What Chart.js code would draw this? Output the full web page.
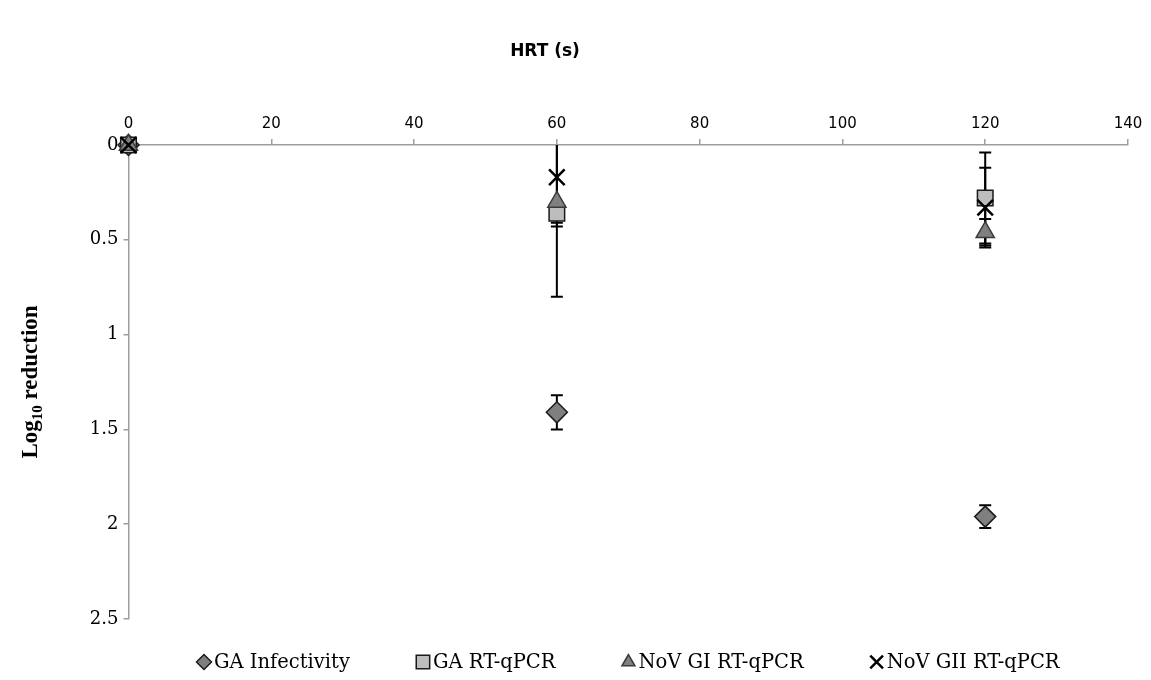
<!DOCTYPE html>
<html>
<head>
<meta charset="utf-8">
<script src="https://cdn.jsdelivr.net/npm/chart.js@4"></script>
<style>
  html, body { margin: 0; padding: 0; background: #fff; }
  #wrap { width: 1151px; height: 680px; }
</style>
</head>
<body>
<div id="wrap"><canvas id="hrtChart"></canvas></div>
<script>
// ========================================
// DATA
// ========================================
const hrtSeconds = [0, 60, 120];

const gaInfectivity = [0, 1.41, 1.96];
const gaInfectivityErr = [0, 0.09, 0.06];

const gaRtqpcr = [0, 0.36, 0.28];
const gaRtqpcrErr = [0, 0.05, 0.24];

const novGiRtqpcr = [0, 0.3, 0.46];
const novGiRtqpcrErr = [0, 0.5, 0.07];

const novGiiRtqpcr = [0, 0.17, 0.33];
const novGiiRtqpcrErr = [0, 0.26, 0.21];

const seriesLabels = ["GA Infectivity", "GA RT-qPCR", "NoV GI RT-qPCR", "NoV GII RT-qPCR"];
const xTicks = [0, 20, 40, 60, 80, 100, 120, 140];
const yTicks = [0, 0.5, 1, 1.5, 2, 2.5];

const axisTitleX = "HRT (s)";
const AXIS_GREY = "#9d9d9d";

function toPoints(values, errs) {
  return hrtSeconds.map((x, i) => ({ x: x, y: values[i], err: errs[i] }));
}

// ========================================
// ERROR BARS (drawn through the scales)
// ========================================
const errorBars = {
  id: "errorBars",
  beforeDatasetsDraw(chart) {
    const { ctx, chartArea, scales } = chart;
    ctx.save();
    ctx.beginPath();
    ctx.rect(chartArea.left - 1, chartArea.top, chartArea.right - chartArea.left + 2, chartArea.bottom - chartArea.top);
    ctx.clip();
    ctx.strokeStyle = "#000";
    ctx.lineWidth = 2;
    chart.data.datasets.forEach((ds) => {
      ds.data.forEach((p) => {
        if (!p.err) return;
        const px = scales.x.getPixelForValue(p.x);
        const yTop = scales.y.getPixelForValue(p.y - p.err);
        const yBot = scales.y.getPixelForValue(p.y + p.err);
        ctx.beginPath();
        ctx.moveTo(px, yTop);
        ctx.lineTo(px, yBot);
        ctx.moveTo(px - 6, yTop);
        ctx.lineTo(px + 6, yTop);
        ctx.moveTo(px - 6, yBot);
        ctx.lineTo(px + 6, yBot);
        ctx.stroke();
      });
    });
    ctx.restore();
  },
};

// ========================================
// TITLES + LEGEND (Excel-style)
// ========================================
const decorations = {
  id: "decorations",
  afterDraw(chart) {
    const { ctx, chartArea } = chart;
    ctx.save();

    // top axis title
    ctx.fillStyle = "#000";
    ctx.font = "bold 17px 'DejaVu Sans'";
    ctx.textAlign = "center";
    ctx.textBaseline = "middle";
    ctx.fillText(axisTitleX, 545, 52);

    // y title with subscript
    const midY = (chartArea.top + chartArea.bottom) / 2;
    ctx.translate(29, midY);
    ctx.rotate(-Math.PI / 2);
    const big = "bold 23px 'Liberation Serif'";
    const small = "bold 15px 'Liberation Serif'";
    ctx.font = big;
    const w1 = ctx.measureText("Log").width;
    const w3 = ctx.measureText(" reduction").width;
    ctx.font = small;
    const w2 = ctx.measureText("10").width;
    let x0 = -(w1 + w2 + w3) / 2;
    ctx.textAlign = "left";
    ctx.textBaseline = "alphabetic";
    ctx.font = big;
    ctx.fillText("Log", x0, 8);
    ctx.font = small;
    ctx.fillText("10", x0 + w1, 13);
    ctx.font = big;
    ctx.fillText(" reduction", x0 + w1 + w2, 8);
    ctx.restore();

    // legend
    ctx.save();
    ctx.font = "19.5px 'DejaVu Serif'";
    ctx.textBaseline = "middle";
    ctx.textAlign = "left";
    const markerW = 14, markerGap = 3, itemGap = 66;
    const items = chart.data.datasets.map((ds) => ({
      ds: ds,
      w: markerW + markerGap + ctx.measureText(ds.label).width,
    }));
    const total = items.reduce((s, it) => s + it.w, 0) + itemGap * (items.length - 1);
    let cx = (chartArea.left + chartArea.right) / 2 - total / 2;
    const ly = 662;
    items.forEach((it) => {
      const ds = it.ds;
      ctx.fillStyle = ds.backgroundColor;
      ctx.strokeStyle = ds.borderColor;
      ctx.lineWidth = ds.pointStyle === "crossRot" ? 2.5 : 1.5;
      Chart.helpers.drawPoint(ctx, {
        pointStyle: ds.pointStyle,
        radius: ds.pointStyle === "rect" ? 9.5 : ds.pointStyle === "crossRot" ? 9 : 7.5,
        rotation: 0,
        borderWidth: ctx.lineWidth,
      }, cx + markerW / 2, ly);
      ctx.fillStyle = "#000";
      ctx.fillText(ds.label, cx + markerW + markerGap, ly + 1);
      cx += it.w + itemGap;
    });
    ctx.restore();
  },
};

// ========================================
// CHART
// ========================================
new Chart(document.getElementById("hrtChart"), {
  type: "scatter",
  data: {
    datasets: [
      {
        label: seriesLabels[0],
        data: toPoints(gaInfectivity, gaInfectivityErr),
        pointStyle: "rectRot",
        pointRadius: 10.5,
        backgroundColor: "#7f7f7f",
        borderColor: "#1a1a1a",
        borderWidth: 1.5,
        clip: false,
        order: 4,
      },
      {
        label: seriesLabels[1],
        data: toPoints(gaRtqpcr, gaRtqpcrErr),
        pointStyle: "rect",
        pointRadius: 11,
        backgroundColor: "#bdbdbd",
        borderColor: "#1a1a1a",
        borderWidth: 1.5,
        clip: false,
        order: 3,
      },
      {
        label: seriesLabels[2],
        data: toPoints(novGiRtqpcr, novGiRtqpcrErr),
        pointStyle: "triangle",
        pointRadius: 10.5,
        backgroundColor: "#808080",
        borderColor: "#3a3a3a",
        borderWidth: 1.5,
        clip: false,
        order: 2,
      },
      {
        label: seriesLabels[3],
        data: toPoints(novGiiRtqpcr, novGiiRtqpcrErr),
        pointStyle: "crossRot",
        pointRadius: 11,
        backgroundColor: "#000",
        borderColor: "#000",
        borderWidth: 2.5,
        clip: false,
        order: 1,
      },
    ],
  },
  options: {
    responsive: true,
    maintainAspectRatio: false,
    animation: false,
    layout: { padding: { left: 0, right: 23, top: 0, bottom: 61 } },
    plugins: {
      legend: { display: false },
      tooltip: { enabled: false },
    },
    scales: {
      x: {
        type: "linear",
        position: "top",
        min: 0,
        max: 140,
        afterFit: (scale) => { scale.height = 145; },
        afterBuildTicks: (scale) => { scale.ticks = xTicks.map((v) => ({ value: v })); },
        ticks: {
          color: "#000",
          font: { family: "'DejaVu Sans'", size: 15 },
          padding: 6,
          maxRotation: 0,
          callback: (v) => String(v),
        },
        grid: { drawOnChartArea: false, drawTicks: true, tickLength: 6, color: AXIS_GREY, lineWidth: 1.5 },
        border: { color: AXIS_GREY, width: 1.5 },
      },
      y: {
        type: "linear",
        reverse: true,
        min: 0,
        max: 2.5,
        afterFit: (scale) => { scale.width = 128.5; },
        afterBuildTicks: (scale) => { scale.ticks = yTicks.map((v) => ({ value: v })); },
        ticks: {
          color: "#000",
          font: { family: "'DejaVu Serif'", size: 18 },
          padding: 5,
          callback: (v) => String(v),
        },
        grid: { drawOnChartArea: false, drawTicks: true, tickLength: 5, color: AXIS_GREY, lineWidth: 1.5 },
        border: { color: AXIS_GREY, width: 1.5 },
      },
    },
  },
  plugins: [errorBars, decorations],
});
</script>
</body>
</html>
